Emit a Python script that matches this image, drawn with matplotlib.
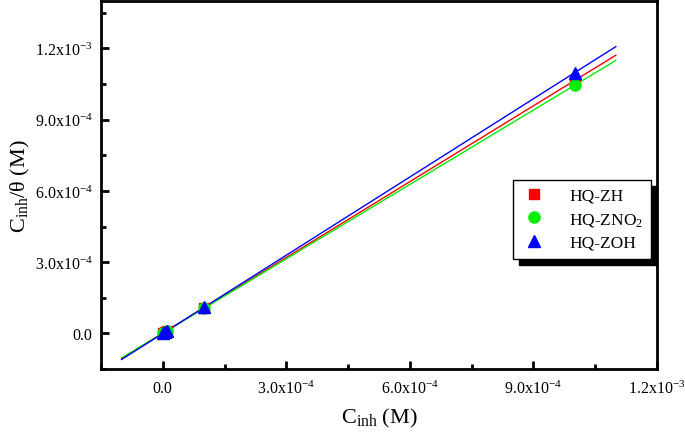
import numpy as np
import matplotlib
matplotlib.use("Agg")
import matplotlib.pyplot as plt
from matplotlib.ticker import FixedLocator, FuncFormatter, MultipleLocator

plt.rcParams['font.family'] = ['Liberation Serif', 'DejaVu Serif']
plt.rcParams['mathtext.fontset'] = 'custom'
plt.rcParams['mathtext.rm'] = 'Liberation Serif'
plt.rcParams['mathtext.it'] = 'Liberation Serif:italic'
plt.rcParams['mathtext.bf'] = 'Liberation Serif:bold'

# Data
c_inh = [1e-6, 5e-6, 1e-5, 1e-4, 1e-3]
hq_zh = [1.1e-6, 5.5e-6, 1.1e-5, 1.08e-4, 1.065e-3]
hq_zno2 = [1.2e-6, 5.8e-6, 1.12e-5, 1.07e-4, 1.045e-3]
hq_zoh = [1.1e-6, 5.4e-6, 1.08e-5, 1.10e-4, 1.098e-3]
fit_range = [-1e-4, 1.1e-3]
series_names = ["HQ-ZH", "HQ-ZNO$_2$", "HQ-ZOH"]
x_ticks = [0.0, 3e-4, 6e-4, 9e-4, 1.2e-3]
x_ticklabels = ["0.0", "3.0x10$^{-4}$", "6.0x10$^{-4}$", "9.0x10$^{-4}$", "1.2x10$^{-3}$"]
y_ticks = [0.0, 3e-4, 6e-4, 9e-4, 1.2e-3]
y_ticklabels = ["0.0", "3.0x10$^{-4}$", "6.0x10$^{-4}$", "9.0x10$^{-4}$", "1.2x10$^{-3}$"]

fig = plt.figure(figsize=(6.85, 4.35), dpi=100)
ax = fig.add_axes([101/685, 1-370/435, 556/685, 368/435])

colors = ['#ff0000', '#00ee00', '#0000ff']
markers = ['s', 'o', '^']
msizes = [7, 8, 9]
fx = np.array(fit_range)
for ys, col in zip([hq_zh, hq_zno2, hq_zoh], colors):
    p = np.polyfit(c_inh, ys, 1)
    ax.plot(fx, np.polyval(p, fx), color=col, lw=1.0, zorder=2)
for ys, col, mk, ms, name in zip([hq_zh, hq_zno2, hq_zoh], colors, markers, msizes, series_names):
    ax.plot(c_inh, ys, linestyle='none', marker=mk, ms=ms, color=col, label=name, zorder=3)

ax.set_xlim(-1.5e-4, 1.2e-3)
ax.set_ylim(-1.5e-4, 1.4e-3)

ax.xaxis.set_major_locator(FixedLocator(x_ticks))
ax.yaxis.set_major_locator(FixedLocator(y_ticks))
ax.xaxis.set_major_formatter(FuncFormatter(lambda v, pos: x_ticklabels[pos] if pos is not None and pos < len(x_ticklabels) else ""))
ax.yaxis.set_major_formatter(FuncFormatter(lambda v, pos: y_ticklabels[pos] if pos is not None and pos < len(y_ticklabels) else ""))
ax.xaxis.set_minor_locator(MultipleLocator(1.5e-4))
ax.yaxis.set_minor_locator(MultipleLocator(1.5e-4))

for s in ax.spines.values():
    s.set_linewidth(2.0)
ax.tick_params(which='both', direction='in', top=False, right=False, width=2.0, labelsize=11.5)
ax.tick_params(axis='y', pad=6)
ax.tick_params(axis='x', pad=8)
ax.tick_params(which='major', length=6)
ax.tick_params(which='minor', length=3.5)

ax.set_xlabel("C$_{\\mathrm{inh}}$ (M)", fontsize=16, labelpad=6)
ax.set_ylabel("C$_{\\mathrm{inh}}$/θ (M)", fontsize=16, labelpad=2)

leg = ax.legend(loc='upper right', bbox_to_anchor=(0.989, 0.514), borderaxespad=0,
                fontsize=12.5, frameon=True, fancybox=False, edgecolor='black',
                shadow={'ox': 4.5, 'oy': -4.5, 'color': 'black', 'alpha': 1},
                handletextpad=1.2, borderpad=0.45, labelspacing=0.4, handlelength=1.6)
leg.get_frame().set_linewidth(1.0)
leg.get_frame().set_alpha(1)

fig.savefig("out.png", dpi=100)
